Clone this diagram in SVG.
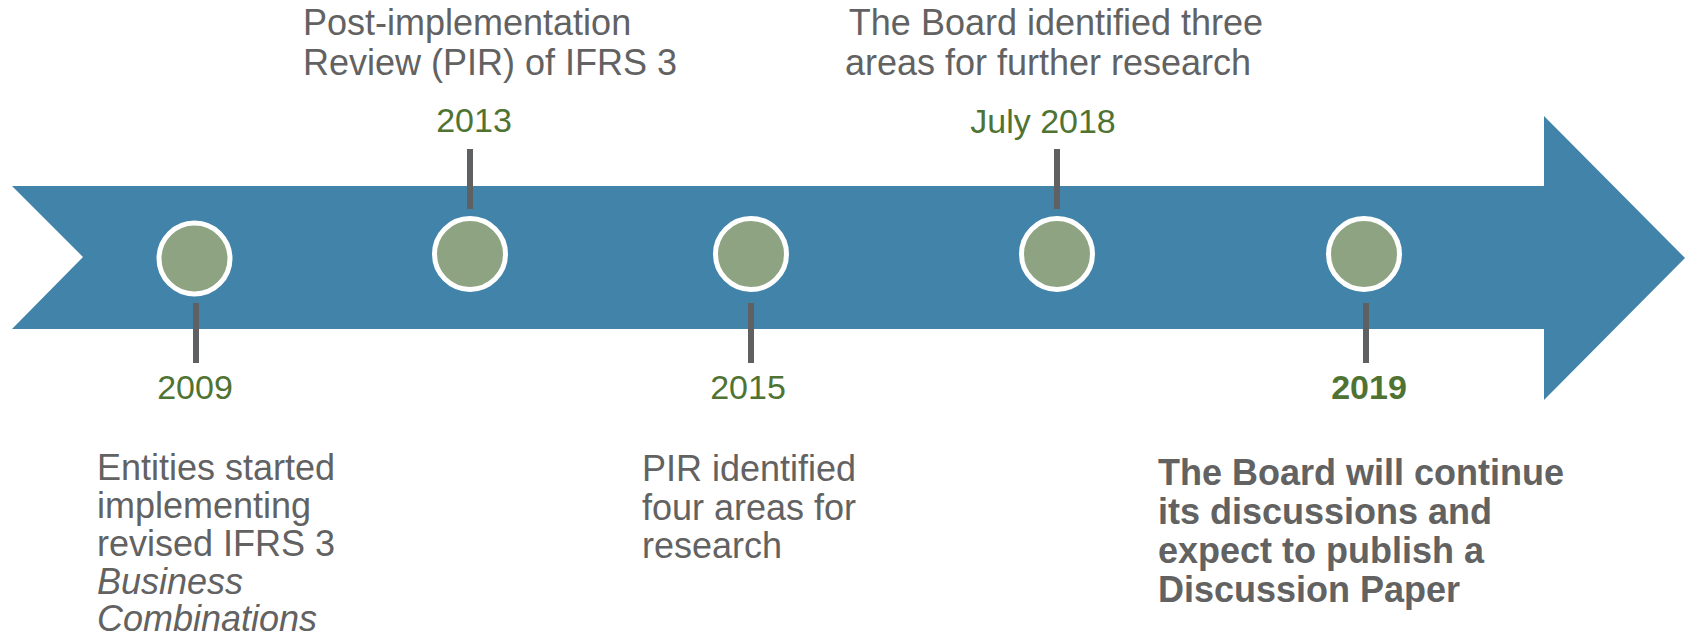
<svg xmlns="http://www.w3.org/2000/svg" width="1685" height="639" viewBox="0 0 1685 639">
  <style>
    .band { fill: #4283aa; }
    .dot { fill: #8da381; stroke: #ffffff; stroke-width: 5; }
    .stem { stroke: #5f6062; stroke-width: 6; }
    .year { font-family: "Liberation Sans", Arial, sans-serif; font-size: 34px; fill: #4f7332; text-anchor: middle; }
    .year-bold { font-weight: bold; }
    .note { font-family: "Liberation Sans", Arial, sans-serif; font-size: 36px; fill: #626262; }
    .note-bold { font-weight: bold; }
    .mid { text-anchor: middle; }
  </style>

  <!-- timeline band: notched tail on the left, arrow head on the right -->
  <polygon id="timeline" class="band" points="12,186 1544,186 1544,116 1685,258 1544,400 1544,329 12,329 83,257"/>

  <!-- ticks joining each milestone to its year -->
  <g id="connectors">
    <line class="stem" x1="196" y1="303" x2="196" y2="363"/>
    <line class="stem" x1="470" y1="149" x2="470" y2="209"/>
    <line class="stem" x1="751" y1="303" x2="751" y2="363"/>
    <line class="stem" x1="1057" y1="149" x2="1057" y2="209"/>
    <line class="stem" x1="1366" y1="303" x2="1366" y2="363"/>
  </g>

  <g id="m2009">
    <circle class="dot" cx="194.5" cy="258.5" r="35.5"/>
    <text class="year" x="195" y="399">2009</text>
    <text class="note" x="97" y="480">Entities started</text>
    <text class="note" x="97" y="518">implementing</text>
    <text class="note" x="97" y="556">revised IFRS 3</text>
    <text class="note" x="97" y="594" font-style="italic">Business</text>
    <text class="note" x="97" y="631" font-style="italic">Combinations</text>
  </g>

  <g id="m2013">
    <circle class="dot" cx="470" cy="254" r="35.5"/>
    <text class="year" x="474" y="132">2013</text>
    <text class="note" x="303" y="35">Post-implementation</text>
    <text class="note" x="303" y="75">Review (PIR) of IFRS 3</text>
  </g>

  <g id="m2015">
    <circle class="dot" cx="751" cy="254" r="35.5"/>
    <text class="year" x="748" y="399">2015</text>
    <text class="note" x="642" y="481">PIR identified</text>
    <text class="note" x="642" y="520">four areas for</text>
    <text class="note" x="642" y="558">research</text>
  </g>

  <g id="m2018">
    <circle class="dot" cx="1057" cy="254" r="35.5"/>
    <text class="year" x="1043" y="133">July 2018</text>
    <text class="note mid" x="1056" y="35">The Board identified three</text>
    <text class="note mid" x="1048" y="75">areas for further research</text>
  </g>

  <g id="m2019">
    <circle class="dot" cx="1364" cy="254" r="35.5"/>
    <text class="year year-bold" x="1369" y="399">2019</text>
    <text class="note note-bold" x="1158" y="485">The Board will continue</text>
    <text class="note note-bold" x="1158" y="524">its discussions and</text>
    <text class="note note-bold" x="1158" y="563">expect to publish a</text>
    <text class="note note-bold" x="1158" y="602">Discussion Paper</text>
  </g>
</svg>
